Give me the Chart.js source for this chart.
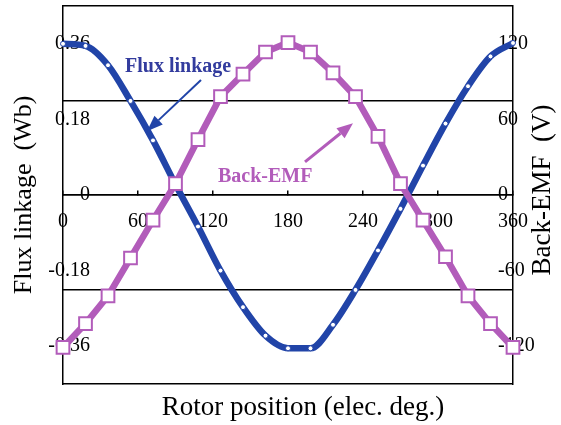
<!DOCTYPE html>
<html><head><meta charset="utf-8">
<script src="https://cdn.jsdelivr.net/npm/chart.js@4/dist/chart.umd.min.js"></script>
<style>html,body{margin:0;padding:0;background:#fff}canvas{display:block}</style>
</head><body>
<canvas id="c" width="561" height="425"></canvas>
<script>
// ---- data ----
const rotorPositions = [0,18,36,54,72,90,108,126,144,162,180,198,216,234,252,270,288,306,324,342,360];
const fluxLinkage = [0.36,0.355,0.309,0.224,0.130,0.025,-0.075,-0.180,-0.267,-0.335,-0.365,-0.365,-0.309,-0.226,-0.132,-0.033,0.070,0.170,0.259,0.330,0.362];
const backEMF = [-121,-102,-80,-50,-20,9,44,78,96,113.5,121,113.5,97,78,46.5,9,-20,-49,-80,-102,-121];
const xTickValues = [0,60,120,180,240,300,360];
const fluxTickValues = [-0.36,-0.18,0,0.18,0.36];
const fluxTickLabels = ['-0.36','-0.18','0','0.18','0.36'];
const emfTickValues = [-120,-60,0,60,120];
const emfTickLabels = ['-120','-60','0','60','120'];
const gridValues = [-0.45,-0.225,0,0.225,0.45];
const fluxRange = [-0.45,0.45];
const emfRange = [-150,150];
const xTitle = 'Rotor position (elec. deg.)';
const leftTitle = 'Flux linkage  (Wb)';
const rightTitle = 'Back-EMF  (V)';
const fluxNote = {text:'Flux linkage', x:49.6, y:0.293, from:[110.4,0.274], to:[67.2,0.152]};
const emfNote = {text:'Back-EMF', x:124, y:0.031, from:[193.6,0.079], to:[232,0.171]};

const BLUE = '#2144a8', MAG = '#b25cba';
const FONT = '"Liberation Serif", "Times New Roman", serif';
Chart.defaults.font.family = FONT;
Chart.defaults.color = '#000';

function arrow(ctx, x1, y1, x2, y2, color, lw, len, hw){
  const a = Math.atan2(y2-y1, x2-x1);
  const bx = x2 - len*Math.cos(a), by = y2 - len*Math.sin(a);
  ctx.strokeStyle = color; ctx.fillStyle = color; ctx.lineWidth = lw;
  ctx.beginPath(); ctx.moveTo(x1,y1); ctx.lineTo(bx,by); ctx.stroke();
  ctx.beginPath(); ctx.moveTo(x2,y2);
  ctx.lineTo(bx + hw*Math.sin(a), by - hw*Math.cos(a));
  ctx.lineTo(bx - hw*Math.sin(a), by + hw*Math.cos(a));
  ctx.closePath(); ctx.fill();
}

const overlay = {
  id:'overlay',
  afterDatasetsDraw(chart){
    const {ctx, chartArea, scales} = chart;
    const x = scales.x, y = scales.y;
    ctx.save();
    ctx.font = 'bold 20px ' + FONT; ctx.textAlign='left'; ctx.textBaseline='alphabetic';
    ctx.fillStyle = '#333c9e';
    ctx.fillText(fluxNote.text, x.getPixelForValue(fluxNote.x), y.getPixelForValue(fluxNote.y));
    arrow(ctx, x.getPixelForValue(fluxNote.from[0]), y.getPixelForValue(fluxNote.from[1]),
               x.getPixelForValue(fluxNote.to[0]), y.getPixelForValue(fluxNote.to[1]), BLUE, 2, 16, 6);
    ctx.fillStyle = MAG;
    ctx.fillText(emfNote.text, x.getPixelForValue(emfNote.x), y.getPixelForValue(emfNote.y));
    arrow(ctx, x.getPixelForValue(emfNote.from[0]), y.getPixelForValue(emfNote.from[1]),
               x.getPixelForValue(emfNote.to[0]), y.getPixelForValue(emfNote.to[1]), MAG, 3, 16, 6.5);
    ctx.fillStyle = '#000';
    ctx.font = '27px ' + FONT; ctx.textAlign = 'center';
    ctx.fillText(xTitle, x.getPixelForValue(192), chartArea.bottom + 31);
    ctx.font = '27px ' + FONT; ctx.textAlign = 'center';
    ctx.translate(chartArea.right + 37, (chartArea.top + chartArea.bottom)/2 - 5);
    ctx.rotate(-Math.PI/2);
    ctx.fillText(rightTitle, 0, 0);
    ctx.restore();
  }
};

const noLabelClip = s => { s._computeLabelArea = () => undefined; };

new Chart(document.getElementById('c'), {
  type:'line',
  data:{
    datasets:[
      {
        label:'Back-EMF', yAxisID:'y2', order:0,
        data: rotorPositions.map((p,i)=>({x:p, y:backEMF[i]})),
        borderColor:MAG, borderWidth:6.5, tension:0, clip:false,
        pointStyle:'rect', pointRadius:9, pointBackgroundColor:'#fff',
        pointBorderColor:MAG, pointBorderWidth:2
      },
      {
        label:'Flux linkage', yAxisID:'y', order:1,
        data: rotorPositions.map((p,i)=>({x:p, y:fluxLinkage[i]})),
        borderColor:BLUE, borderWidth:6.5, cubicInterpolationMode:'monotone', clip:false,
        pointStyle:'circle', pointRadius:2.5, pointBackgroundColor:'#fff',
        pointBorderColor:BLUE, pointBorderWidth:1
      }
    ]
  },
  options:{
    responsive:false, animation:false, devicePixelRatio:1,
    layout:{autoPadding:false, padding:{top:6, bottom:41, left:0, right:0}},
    plugins:{legend:{display:false}, tooltip:{enabled:false}, title:{display:false}},
    scales:{
      x:{
        type:'linear', position:{y:0}, min:0, max:360,
        afterBuildTicks: s => { s.ticks = xTickValues.map(v=>({value:v})); },
        ticks:{padding:20, color:'#000', font:{size:20}, maxRotation:0, autoSkip:false, callback:v=>String(v)},
        grid:{drawOnChartArea:false, drawTicks:true, tickLength:-5, color:'#000', lineWidth:1.5},
        border:{display:true, color:'#000', width:1.5},
        afterFit: s => { s.paddingTop = 0; s.paddingBottom = 0; noLabelClip(s); }
      },
      y:{
        position:'left', min:fluxRange[0], max:fluxRange[1],
        afterBuildTicks: s => { s.ticks = fluxTickValues.map(v=>({value:v})); },
        ticks:{padding:-27, color:'#000', font:{size:20}, crossAlign:'near',
               callback:v=>fluxTickLabels[fluxTickValues.indexOf(v)]},
        grid:{display:false, drawTicks:false},
        border:{display:true, color:'#000', width:1.5},
        title:{display:true, text:leftTitle, color:'#000', font:{size:26}, padding:{top:9,bottom:0}},
        afterFit: s => { s.width = 63; s.paddingTop = 0; s.paddingBottom = 0; noLabelClip(s); }
      },
      y2:{
        position:'right', min:emfRange[0], max:emfRange[1],
        afterBuildTicks: s => { s.ticks = emfTickValues.map(v=>({value:v})); },
        ticks:{padding:-15, color:'#000', font:{size:20}, crossAlign:'near',
               callback:v=>emfTickLabels[emfTickValues.indexOf(v)]},
        grid:{display:false, drawTicks:false},
        border:{display:true, color:'#000', width:1.5},
        afterFit: s => { s.width = 48; s.paddingTop = 0; s.paddingBottom = 0; noLabelClip(s); }
      },
      g:{
        position:'left', min:fluxRange[0], max:fluxRange[1],
        afterBuildTicks: s => { s.ticks = gridValues.map(v=>({value:v})); },
        ticks:{display:false},
        grid:{color:'#000', lineWidth:1.5, drawTicks:false},
        border:{display:false},
        afterFit: s => { s.width = 0; s.paddingTop = 0; s.paddingBottom = 0; }
      }
    }
  },
  plugins:[overlay]
});
</script>
</body></html>
